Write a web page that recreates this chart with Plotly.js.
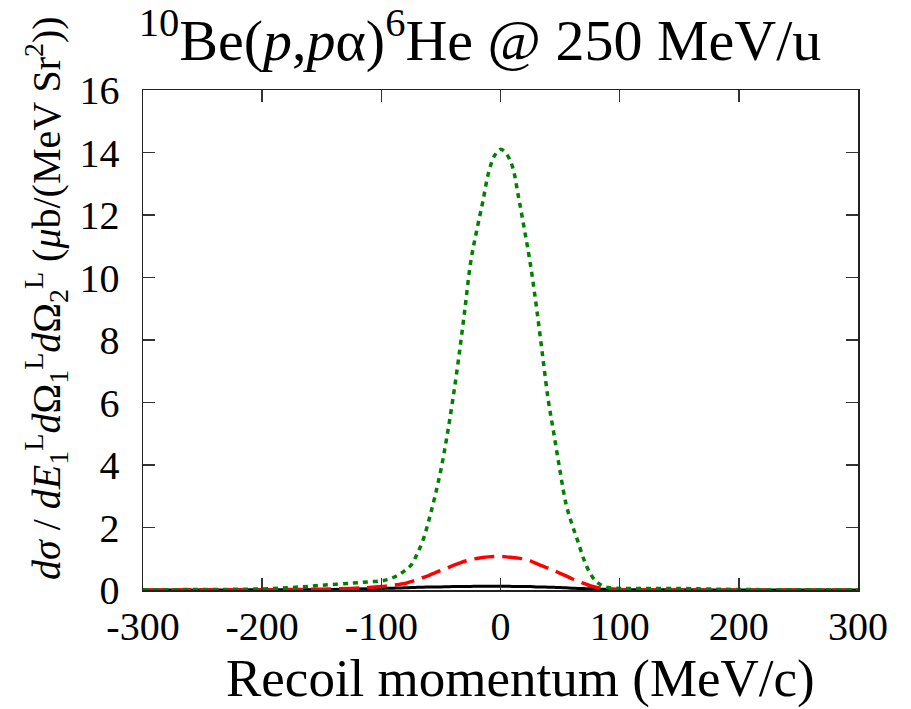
<!DOCTYPE html>
<html>
<head>
<meta charset="utf-8">
<script src="https://cdn.plot.ly/plotly-3.0.1.min.js"></script>
<style>html,body{margin:0;padding:0;background:#fff;}#chart{width:911px;height:709px;}</style>
</head>
<body>
<div id="chart"></div>
<script>
// Recoil momentum grid (MeV/c)
const momentum = [-300,-250,-200,-175,-150,-125,-110,-100,
  -95,-90,-85,-80,-75,-70,-65,-60,-55,-50,-45,-40,-35,-30,-25,-20,-15,-10,-5,
  0,
  5,10,15,20,25,30,35,40,45,50,55,60,65,70,75,80,85,90,
  100,110,125,150,175,200,250,300];

// Black solid curve
const blackValues = [0.002,0.003,0.005,0.01,0.015,0.03,0.04,0.05,
  0.055,0.06,0.065,0.07,0.08,0.085,0.09,0.095,0.1,0.1,0.105,0.11,0.11,0.115,0.115,0.12,0.12,0.12,0.12,
  0.12,
  0.12,0.115,0.115,0.11,0.11,0.1,0.095,0.09,0.085,0.08,0.07,0.06,0.05,0.045,0.04,0.03,0.025,0.02,
  0.015,0.01,0.008,0.005,0.004,0.003,0.002,0.001];

// Red dashed curve
const redValues = [0.003,0.005,0.01,0.015,0.025,0.05,0.08,0.11,
  0.13,0.15,0.18,0.21,0.27,0.33,0.40,0.47,0.55,0.63,0.70,0.78,0.85,0.92,0.97,1.01,1.04,1.06,1.07,
  1.07,
  1.06,1.04,1.02,0.98,0.93,0.85,0.77,0.70,0.62,0.53,0.45,0.36,0.28,0.21,0.14,0.09,0.06,0.04,
  0.02,0.01,0.008,0.005,0.004,0.003,0.002,0.001];

// Green dotted curve
const greenValues = [0.01,0.015,0.035,0.08,0.15,0.22,0.26,0.29,
  0.33,0.40,0.50,0.63,0.80,1.15,1.6,2.25,3.0,3.85,4.9,6.1,7.45,8.95,10.5,11.5,12.4,13.35,13.9,
  14.1,
  13.95,13.55,12.6,11.55,10.45,9.1,7.6,6.1,4.95,3.8,2.75,2.1,1.55,0.97,0.55,0.28,0.15,0.08,
  0.05,0.05,0.05,0.05,0.03,0.015,0.01,0.005];

const xTicks = [-300,-200,-100,0,100,200,300];
const yTicks = [0,2,4,6,8,10,12,14,16];

const titleText = '<sup>10</sup>Be(<i>p</i>,<i>p</i>α)<sup>6</sup>He @ 250 MeV/u';
const xTitleText = 'Recoil momentum (MeV/c)';
const yTitleText = '<i>dσ</i> / <i>dE</i><sub>1</sub><sup>L</sup><i>d</i>Ω<sub>1</sub><sup>L</sup><i>d</i>Ω<sub>2</sub><sup>L</sup> (<i>μ</i>b/(MeV Sr<sup>2</sup>))';

const serif = '"Liberation Serif", "Times New Roman", serif';

const traces = [
  {x: momentum, y: blackValues, type: 'scatter', mode: 'lines', cliponaxis: false,
   line: {color: '#000000', width: 3, shape: 'spline'}},
  {x: momentum, y: redValues, type: 'scatter', mode: 'lines', cliponaxis: false,
   line: {color: '#ff0000', width: 3.5, dash: '20px,8px', shape: 'spline'}},
  {x: momentum, y: greenValues, type: 'scatter', mode: 'lines', cliponaxis: false,
   line: {color: '#008000', width: 3.5, dash: '5px,5px', shape: 'spline'}}
];

const layout = {
  width: 911, height: 709,
  margin: {l: 143, r: 53, t: 90, b: 119},
  paper_bgcolor: '#ffffff', plot_bgcolor: '#ffffff',
  showlegend: false,
  font: {family: serif, color: '#000000'},
  title: {
    text: titleText,
    font: {family: serif, size: 58, color: '#000000'},
    x: 480/911, xanchor: 'center', xref: 'container',
    y: 1 - 40/709, yanchor: 'middle', yref: 'container'
  },
  xaxis: {
    range: [-300, 300], tickvals: xTicks, ticktext: xTicks.map(String),
    ticks: 'inside', ticklen: 12, tickwidth: 1.5, tickcolor: '#333',
    showline: true, linecolor: '#222', linewidth: 1.5, mirror: 'ticks',
    showgrid: false, zeroline: false,
    tickfont: {family: serif, size: 40, color: '#000'}
  },
  yaxis: {
    range: [0, 16], tickvals: yTicks, ticktext: yTicks.map(String),
    ticks: 'inside', ticklen: 12, tickwidth: 1.5, tickcolor: '#333',
    showline: true, linecolor: '#222', linewidth: 1.5, mirror: 'ticks',
    showgrid: false, zeroline: false,
    tickfont: {family: serif, size: 40, color: '#000'},
    ticklabelstandoff: 14
  },
  annotations: [
    {text: xTitleText, xref: 'paper', yref: 'paper',
     x: (520 - 143) / 715, y: (590 - 678) / 500, xanchor: 'center', yanchor: 'middle',
     showarrow: false, font: {family: serif, size: 53, color: '#000'}},
    {text: yTitleText, xref: 'paper', yref: 'paper', textangle: -90,
     x: (46 - 143) / 715, y: (590 - 298) / 500, xanchor: 'center', yanchor: 'middle',
     showarrow: false, font: {family: serif, size: 40, color: '#000'}}
  ]
};

Plotly.newPlot('chart', traces, layout, {displayModeBar: false, staticPlot: true});
</script>
</body>
</html>
